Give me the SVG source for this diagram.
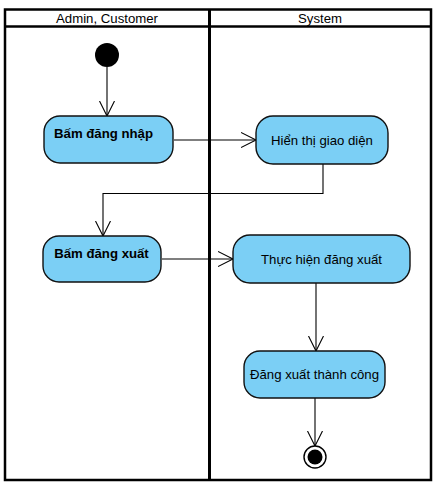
<svg xmlns="http://www.w3.org/2000/svg" width="438" height="492" viewBox="0 0 438 492">
<style>
.lane{fill:none;stroke:#000;stroke-width:2.5}
.hdr{font-family:"Liberation Sans",Arial,sans-serif;font-size:13.2px;fill:#000;text-anchor:middle}
.act{fill:#7BCFF5;stroke:#111;stroke-width:1.4}
.lbl{font-family:"Liberation Sans",Arial,sans-serif;font-size:13.2px;fill:#000;text-anchor:middle}
.b{font-weight:bold}
.edge{fill:none;stroke:#000;stroke-width:1.1}
</style>
<defs>
<marker id="arr" markerWidth="18" markerHeight="18" refX="15" refY="8" orient="auto" markerUnits="userSpaceOnUse">
<path d="M0,0.5 L15,8 L0,15.5" fill="none" stroke="#000" stroke-width="1.1"/>
</marker>
</defs>
<rect x="0" y="0" width="438" height="492" fill="#fff"/>
<g id="swimlanes">
<rect class="lane" x="5" y="9.5" width="426" height="470.5"/>
<line class="lane" x1="5" y1="26.5" x2="431" y2="26.5"/>
<line x1="209.5" y1="9.5" x2="209.5" y2="480" stroke="#000" stroke-width="3"/>
<text class="hdr" x="107" y="22.5">Admin, Customer</text>
<text class="hdr" x="320" y="22.5">System</text>
</g>
<g id="connectors">
<path class="edge" d="M107,67 L107,116" marker-end="url(#arr)"/>
<path class="edge" d="M174,140 L256,140" marker-end="url(#arr)"/>
<path class="edge" d="M323,164 L323,193.5 L103,193.5 L103,236" marker-end="url(#arr)"/>
<path class="edge" d="M162,259 L233,259" marker-end="url(#arr)"/>
<path class="edge" d="M316,283 L316,351" marker-end="url(#arr)"/>
<path class="edge" d="M315,398 L315,446" marker-end="url(#arr)"/>
</g>
<g id="start">
<circle cx="107" cy="55" r="12" fill="#000"/>
</g>
<g id="bam-dang-nhap">
<rect class="act" x="44" y="116" width="129" height="47" rx="16" ry="16"/>
<text class="lbl b" x="103.5" y="137.5">Bấm đăng nhập</text>
</g>
<g id="hien-thi-giao-dien">
<rect class="act" x="256" y="116" width="132" height="48" rx="17" ry="17"/>
<text class="lbl" x="322" y="145">Hiển thị giao diện</text>
</g>
<g id="bam-dang-xuat">
<rect class="act" x="43" y="236" width="118" height="46" rx="16" ry="16"/>
<text class="lbl b" x="101.5" y="257.5">Bấm đăng xuất</text>
</g>
<g id="thuc-hien-dang-xuat">
<rect class="act" x="233" y="235" width="177" height="48" rx="17" ry="17"/>
<text class="lbl" x="321.5" y="264">Thực hiện đăng xuất</text>
</g>
<g id="dang-xuat-thanh-cong">
<rect class="act" x="244" y="351" width="141" height="47" rx="16" ry="16"/>
<text class="lbl" x="314.5" y="379">Đăng xuất thành công</text>
</g>
<g id="end">
<circle cx="315" cy="457" r="11" fill="#fff" stroke="#000" stroke-width="1.4"/>
<circle cx="315" cy="457" r="7.5" fill="#000"/>
</g>
</svg>
